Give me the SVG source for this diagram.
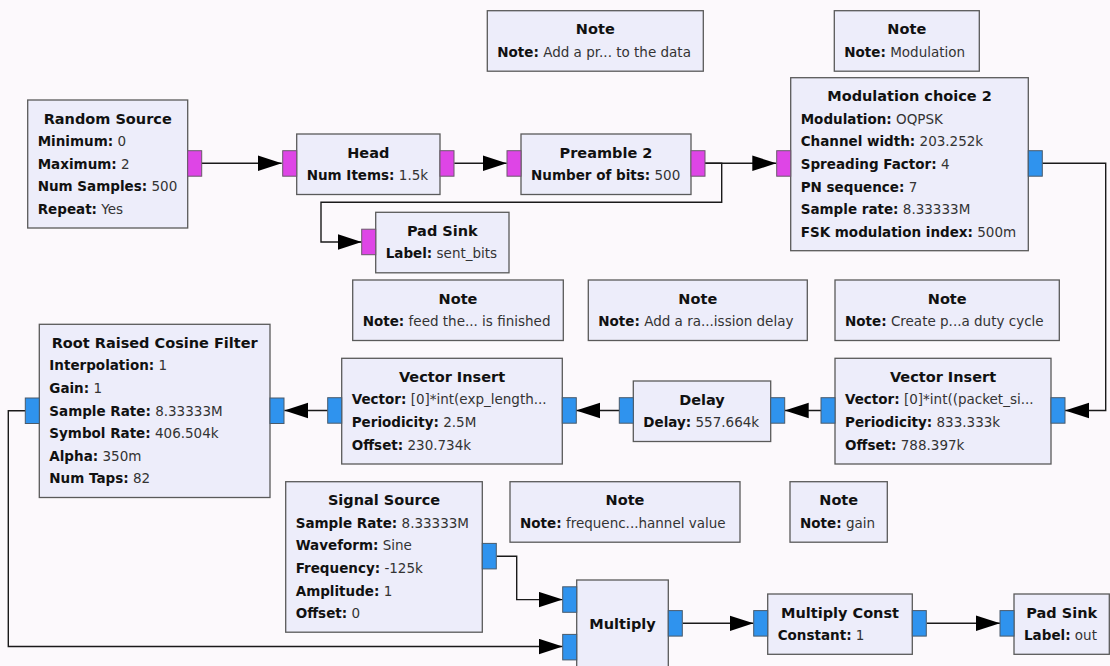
<svg xmlns="http://www.w3.org/2000/svg" width="1110" height="666" viewBox="0 0 1110 666">
<style>
.bg{fill:#FCF9FC}
.blk{fill:#EDEDFA;stroke:#5a5a5a;stroke-width:1.3}
.pb{fill:#DE45E6;stroke:#6a5a6a;stroke-width:1}
.pc{fill:#2F93EE;stroke:#4a5a6a;stroke-width:1}
text{font-family:"DejaVu Sans","Liberation Sans",sans-serif}
.t{font-size:14.5px;font-weight:bold;fill:#111;text-anchor:middle}
.p{font-size:13.5px;fill:#333}
.k{font-weight:bold;fill:#111}
.c{fill:none;stroke:#1a1a1a;stroke-width:1.4}
</style>
<defs>
<marker id="arr" markerUnits="userSpaceOnUse" markerWidth="26" markerHeight="18" refX="24" refY="8" orient="auto">
<path d="M0,0.2 L24,8 L0,15.8 z" fill="#000"/>
</marker>
</defs>
<rect class="bg" x="0" y="0" width="1110" height="666"/>

<g id="connectors">
<path class="c" d="M201.7,163.3 H281.7" marker-end="url(#arr)"/>
<path class="c" d="M454.3,163.3 H506.7" marker-end="url(#arr)"/>
<path class="c" d="M705,163.3 H776.3" marker-end="url(#arr)"/>
<path class="c" d="M705,163.3 H721.7 V202.3 H321 V242 H361.7" marker-end="url(#arr)"/>
<path class="c" d="M1042.3,163.3 H1105.7 V410.5 H1065" marker-end="url(#arr)"/>
<path class="c" d="M821,410.5 H784.7" marker-end="url(#arr)"/>
<path class="c" d="M619.3,410.5 H576" marker-end="url(#arr)"/>
<path class="c" d="M327.7,410.5 H284.3" marker-end="url(#arr)"/>
<path class="c" d="M25.3,410.8 H8.3 V646.5 H562.7" marker-end="url(#arr)"/>
<path class="c" d="M496.7,556.3 H516.7 V599.6 H562.7" marker-end="url(#arr)"/>
<path class="c" d="M682.7,623.3 H753.5" marker-end="url(#arr)"/>
<path class="c" d="M926.7,623.3 H1000" marker-end="url(#arr)"/>
</g>

<g id="random_source">
<rect class="blk" x="27.7" y="100" width="160" height="128"/>
<rect class="pb" x="187.7" y="150.7" width="14" height="25.5"/>
<text class="t" x="107.7" y="123.5">Random Source</text>
<text class="p" x="37.7" y="146.1"><tspan class="k">Minimum:</tspan> 0</text>
<text class="p" x="37.7" y="168.7"><tspan class="k">Maximum:</tspan> 2</text>
<text class="p" x="37.7" y="191.3"><tspan class="k">Num Samples:</tspan> 500</text>
<text class="p" x="37.7" y="213.9"><tspan class="k">Repeat:</tspan> Yes</text>
</g>

<g id="head">
<rect class="blk" x="296.7" y="134" width="143.3" height="60.5"/>
<rect class="pb" x="282.7" y="150.7" width="14" height="25.5"/>
<rect class="pb" x="440" y="150.7" width="14" height="25.5"/>
<text class="t" x="368.3" y="157.5">Head</text>
<text class="p" x="306.7" y="180.1"><tspan class="k">Num Items:</tspan> 1.5k</text>
</g>

<g id="preamble2">
<rect class="blk" x="521" y="134" width="170" height="60.5"/>
<rect class="pb" x="507" y="150.7" width="14" height="25.5"/>
<rect class="pb" x="691" y="150.7" width="14" height="25.5"/>
<text class="t" x="606" y="157.5">Preamble 2</text>
<text class="p" x="531" y="180.1"><tspan class="k">Number of bits:</tspan> 500</text>
</g>

<g id="pad_sink_sent_bits">
<rect class="blk" x="375.7" y="212.3" width="133.3" height="60.5"/>
<rect class="pb" x="361.7" y="229.2" width="14" height="25.5"/>
<text class="t" x="442.3" y="235.8">Pad Sink</text>
<text class="p" x="385.7" y="258.4"><tspan class="k">Label:</tspan> sent_bits</text>
</g>

<g id="note_preamble">
<rect class="blk" x="487.3" y="10.7" width="216" height="60.5"/>
<text class="t" x="595.3" y="34.2">Note</text>
<text class="p" x="497.3" y="56.8"><tspan class="k">Note:</tspan> Add a pr... to the data</text>
</g>

<g id="note_modulation">
<rect class="blk" x="834.3" y="10.7" width="145" height="60.5"/>
<text class="t" x="906.8" y="34.2">Note</text>
<text class="p" x="844.3" y="56.8"><tspan class="k">Note:</tspan> Modulation</text>
</g>

<g id="modulation_choice2">
<rect class="blk" x="790.7" y="77.7" width="237.6" height="173"/>
<rect class="pb" x="776.7" y="150.7" width="14" height="25.5"/>
<rect class="pc" x="1028.3" y="150.7" width="14" height="25.5"/>
<text class="t" x="909.5" y="101.2">Modulation choice 2</text>
<text class="p" x="800.7" y="123.8"><tspan class="k">Modulation:</tspan> OQPSK</text>
<text class="p" x="800.7" y="146.4"><tspan class="k">Channel width:</tspan> 203.252k</text>
<text class="p" x="800.7" y="169"><tspan class="k">Spreading Factor:</tspan> 4</text>
<text class="p" x="800.7" y="191.6"><tspan class="k">PN sequence:</tspan> 7</text>
<text class="p" x="800.7" y="214.2"><tspan class="k">Sample rate:</tspan> 8.33333M</text>
<text class="p" x="800.7" y="236.8"><tspan class="k">FSK modulation index:</tspan> 500m</text>
</g>

<g id="note_feed">
<rect class="blk" x="352.7" y="280" width="210.6" height="60.5"/>
<text class="t" x="458" y="303.5">Note</text>
<text class="p" x="362.7" y="326.1"><tspan class="k">Note:</tspan> feed the... is finished</text>
</g>

<g id="note_delay">
<rect class="blk" x="588.3" y="280" width="219" height="60.5"/>
<text class="t" x="697.8" y="303.5">Note</text>
<text class="p" x="598.3" y="326.1"><tspan class="k">Note:</tspan> Add a ra...ission delay</text>
</g>

<g id="note_duty">
<rect class="blk" x="835" y="280" width="224.3" height="60.5"/>
<text class="t" x="947.2" y="303.5">Note</text>
<text class="p" x="845" y="326.1"><tspan class="k">Note:</tspan> Create p...a duty cycle</text>
</g>

<g id="rrc_filter">
<rect class="blk" x="39.3" y="324.3" width="230.7" height="173.2"/>
<rect class="pc" x="25.3" y="398" width="14" height="25.5"/>
<rect class="pc" x="270" y="398" width="14" height="25.5"/>
<text class="t" x="154.7" y="347.8">Root Raised Cosine Filter</text>
<text class="p" x="49.3" y="370.4"><tspan class="k">Interpolation:</tspan> 1</text>
<text class="p" x="49.3" y="393"><tspan class="k">Gain:</tspan> 1</text>
<text class="p" x="49.3" y="415.6"><tspan class="k">Sample Rate:</tspan> 8.33333M</text>
<text class="p" x="49.3" y="438.2"><tspan class="k">Symbol Rate:</tspan> 406.504k</text>
<text class="p" x="49.3" y="460.8"><tspan class="k">Alpha:</tspan> 350m</text>
<text class="p" x="49.3" y="483.4"><tspan class="k">Num Taps:</tspan> 82</text>
</g>

<g id="vector_insert1">
<rect class="blk" x="341.7" y="358.3" width="220.6" height="105.7"/>
<rect class="pc" x="327.7" y="397.7" width="14" height="25.5"/>
<rect class="pc" x="562.3" y="397.7" width="14" height="25.5"/>
<text class="t" x="452" y="381.8">Vector Insert</text>
<text class="p" x="351.7" y="404.4"><tspan class="k">Vector:</tspan> [0]*int(exp_length...</text>
<text class="p" x="351.7" y="427"><tspan class="k">Periodicity:</tspan> 2.5M</text>
<text class="p" x="351.7" y="449.6"><tspan class="k">Offset:</tspan> 230.734k</text>
</g>

<g id="delay">
<rect class="blk" x="633.3" y="381" width="137.4" height="60.5"/>
<rect class="pc" x="619.3" y="397.7" width="14" height="25.5"/>
<rect class="pc" x="770.7" y="397.7" width="14" height="25.5"/>
<text class="t" x="702" y="404.5">Delay</text>
<text class="p" x="643.3" y="427.1"><tspan class="k">Delay:</tspan> 557.664k</text>
</g>

<g id="vector_insert2">
<rect class="blk" x="835" y="358.3" width="216" height="105.7"/>
<rect class="pc" x="821" y="397.7" width="14" height="25.5"/>
<rect class="pc" x="1051" y="397.7" width="14" height="25.5"/>
<text class="t" x="943" y="381.8">Vector Insert</text>
<text class="p" x="845" y="404.4"><tspan class="k">Vector:</tspan> [0]*int((packet_si...</text>
<text class="p" x="845" y="427"><tspan class="k">Periodicity:</tspan> 833.333k</text>
<text class="p" x="845" y="449.6"><tspan class="k">Offset:</tspan> 788.397k</text>
</g>

<g id="signal_source">
<rect class="blk" x="285.7" y="481.7" width="196.6" height="150.5"/>
<rect class="pc" x="482.3" y="543.4" width="14" height="25.5"/>
<text class="t" x="384" y="505.2">Signal Source</text>
<text class="p" x="295.7" y="527.8"><tspan class="k">Sample Rate:</tspan> 8.33333M</text>
<text class="p" x="295.7" y="550.4"><tspan class="k">Waveform:</tspan> Sine</text>
<text class="p" x="295.7" y="573"><tspan class="k">Frequency:</tspan> -125k</text>
<text class="p" x="295.7" y="595.6"><tspan class="k">Amplitude:</tspan> 1</text>
<text class="p" x="295.7" y="618.2"><tspan class="k">Offset:</tspan> 0</text>
</g>

<g id="note_frequency">
<rect class="blk" x="510" y="481.7" width="230" height="60.5"/>
<text class="t" x="625" y="505.2">Note</text>
<text class="p" x="520" y="527.8"><tspan class="k">Note:</tspan> frequenc...hannel value</text>
</g>

<g id="note_gain">
<rect class="blk" x="790" y="481.7" width="97.3" height="60.5"/>
<text class="t" x="838.7" y="505.2">Note</text>
<text class="p" x="800" y="527.8"><tspan class="k">Note:</tspan> gain</text>
</g>

<g id="multiply">
<rect class="blk" x="576.7" y="580" width="91.6" height="88"/>
<rect class="pc" x="562.7" y="586.8" width="14" height="25.5"/>
<rect class="pc" x="562.7" y="634.4" width="14" height="25.5"/>
<rect class="pc" x="668.3" y="610.6" width="14" height="25.5"/>
<text class="t" x="622.5" y="628.5">Multiply</text>
</g>

<g id="multiply_const">
<rect class="blk" x="767.7" y="594" width="144.6" height="60.3"/>
<rect class="pc" x="753.7" y="610.6" width="14" height="25.5"/>
<rect class="pc" x="912.3" y="610.6" width="14" height="25.5"/>
<text class="t" x="840" y="617.5">Multiply Const</text>
<text class="p" x="777.7" y="640.1"><tspan class="k">Constant:</tspan> 1</text>
</g>

<g id="pad_sink_out">
<rect class="blk" x="1014" y="594" width="95.3" height="60.3"/>
<rect class="pc" x="1000" y="610.6" width="14" height="25.5"/>
<text class="t" x="1061.7" y="617.5">Pad Sink</text>
<text class="p" x="1024" y="640.1"><tspan class="k">Label:</tspan> out</text>
</g>
</svg>
